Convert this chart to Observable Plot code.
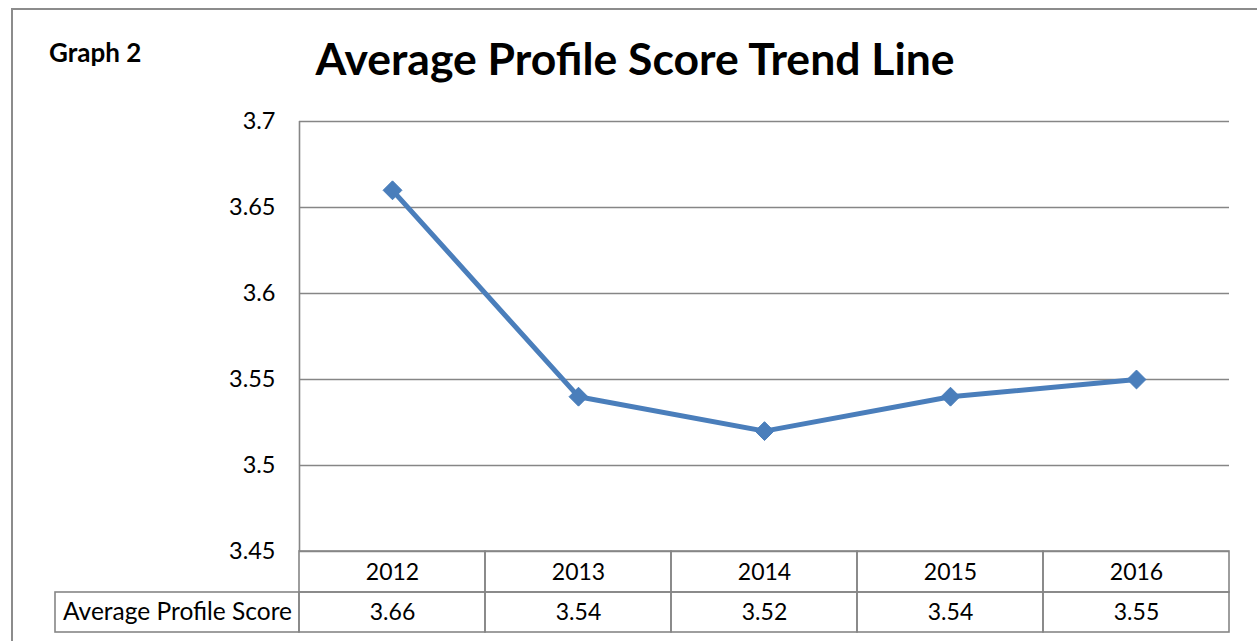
<!DOCTYPE html>
<html>
<head>
<meta charset="utf-8">
<script src="https://cdn.jsdelivr.net/npm/d3@7"></script>
<script src="https://cdn.jsdelivr.net/npm/@observablehq/plot@0.6"></script>
<style>
  html, body { margin: 0; padding: 0; background: #fff; }
  #page { position: relative; width: 1257px; height: 641px; overflow: hidden; font-family: Lato, "Noto Sans", sans-serif; }
  #frame { position: absolute; left: 11px; top: 8px; width: 1300px; height: 700px; border: 2px solid #8c8c8c; box-sizing: border-box; }
  #tag { position: absolute; left: 49px; top: 39px; font-size: 26px; font-weight: bold; line-height: 1; color: #000; }
  #title { position: absolute; left: 0; width: 1270px; top: 36px; text-align: center; font-size: 44.5px; font-weight: bold; line-height: 1; color: #000; }
  #chart { position: absolute; left: 0; top: 100px; }
</style>
</head>
<body>
<div id="page">
  <div id="frame"></div>
  <div id="tag">Graph 2</div>
  <div id="title">Average Profile Score Trend Line</div>
  <div id="chart"></div>
</div>
<script>
const years = [2012, 2013, 2014, 2015, 2016];
const scores = [3.66, 3.54, 3.52, 3.54, 3.55];
const yTicks = [3.45, 3.5, 3.55, 3.6, 3.65, 3.7];
const seriesLabel = "Average Profile Score";

const data = years.map((year, i) => ({year, value: scores[i]}));
const yMin = yTicks[0], yMax = yTicks[yTicks.length - 1];
const x0 = years[0] - 0.5, x1 = years[years.length - 1] + 0.5;

const lineColor = "#4A7EBB";
const gridColor = "#868686";

const chart = Plot.plot({
  width: 1257,
  height: 541,
  marginLeft: 299,
  marginRight: 28,
  marginTop: 21,
  marginBottom: 90,
  style: {fontFamily: "Lato, 'Noto Sans', sans-serif", fontSize: "23px", color: "#000", background: "transparent", overflow: "visible"},
  x: {type: "linear", domain: [x0, x1], axis: null},
  y: {domain: [yMin, yMax], axis: null},
  marks: [
    Plot.ruleY(yTicks, {stroke: gridColor, strokeWidth: 1.6}),
    Plot.ruleX([x0], {y1: () => yMin, y2: () => yMax, stroke: gridColor, strokeWidth: 1.6}),
    Plot.axisY(yTicks, {tickSize: 0, tickPadding: 24, tickFormat: d => String(+d.toFixed(2)), fontSize: 23.5, label: null}),
    // data table cells
    Plot.rect(years, {x1: d => d - 0.5, x2: d => d + 0.5, y1: () => yMin, y2: () => yMin, insetBottom: -41, fill: "none", stroke: gridColor, strokeWidth: 1.6}),
    Plot.rect(years, {x1: d => d - 0.5, x2: d => d + 0.5, y1: () => yMin, y2: () => yMin, insetTop: 41, insetBottom: -81, fill: "none", stroke: gridColor, strokeWidth: 1.6}),
    Plot.rect([seriesLabel], {x1: () => x0, x2: () => x0, y1: () => yMin, y2: () => yMin, insetLeft: -244, insetTop: 41, insetBottom: -81, fill: "none", stroke: gridColor, strokeWidth: 1.6}),
    Plot.text(years, {x: d => d, y: () => yMin, dy: 21, text: d => String(d), fontSize: 23}),
    Plot.text(data, {x: "year", y: () => yMin, dy: 61, text: d => d.value.toFixed(2), fontSize: 23}),
    Plot.text([seriesLabel], {x: () => x0, y: () => yMin, dx: -122, dy: 61, text: d => d, fontSize: 24.5}),
    // series
    Plot.line(data, {x: "year", y: "value", stroke: lineColor, strokeWidth: 5}),
    Plot.dot(data, {x: "year", y: "value", symbol: "diamond2", r: 8.5, fill: lineColor, stroke: lineColor, strokeWidth: 1})
  ]
});
document.getElementById("chart").appendChild(chart);
</script>
</body>
</html>
